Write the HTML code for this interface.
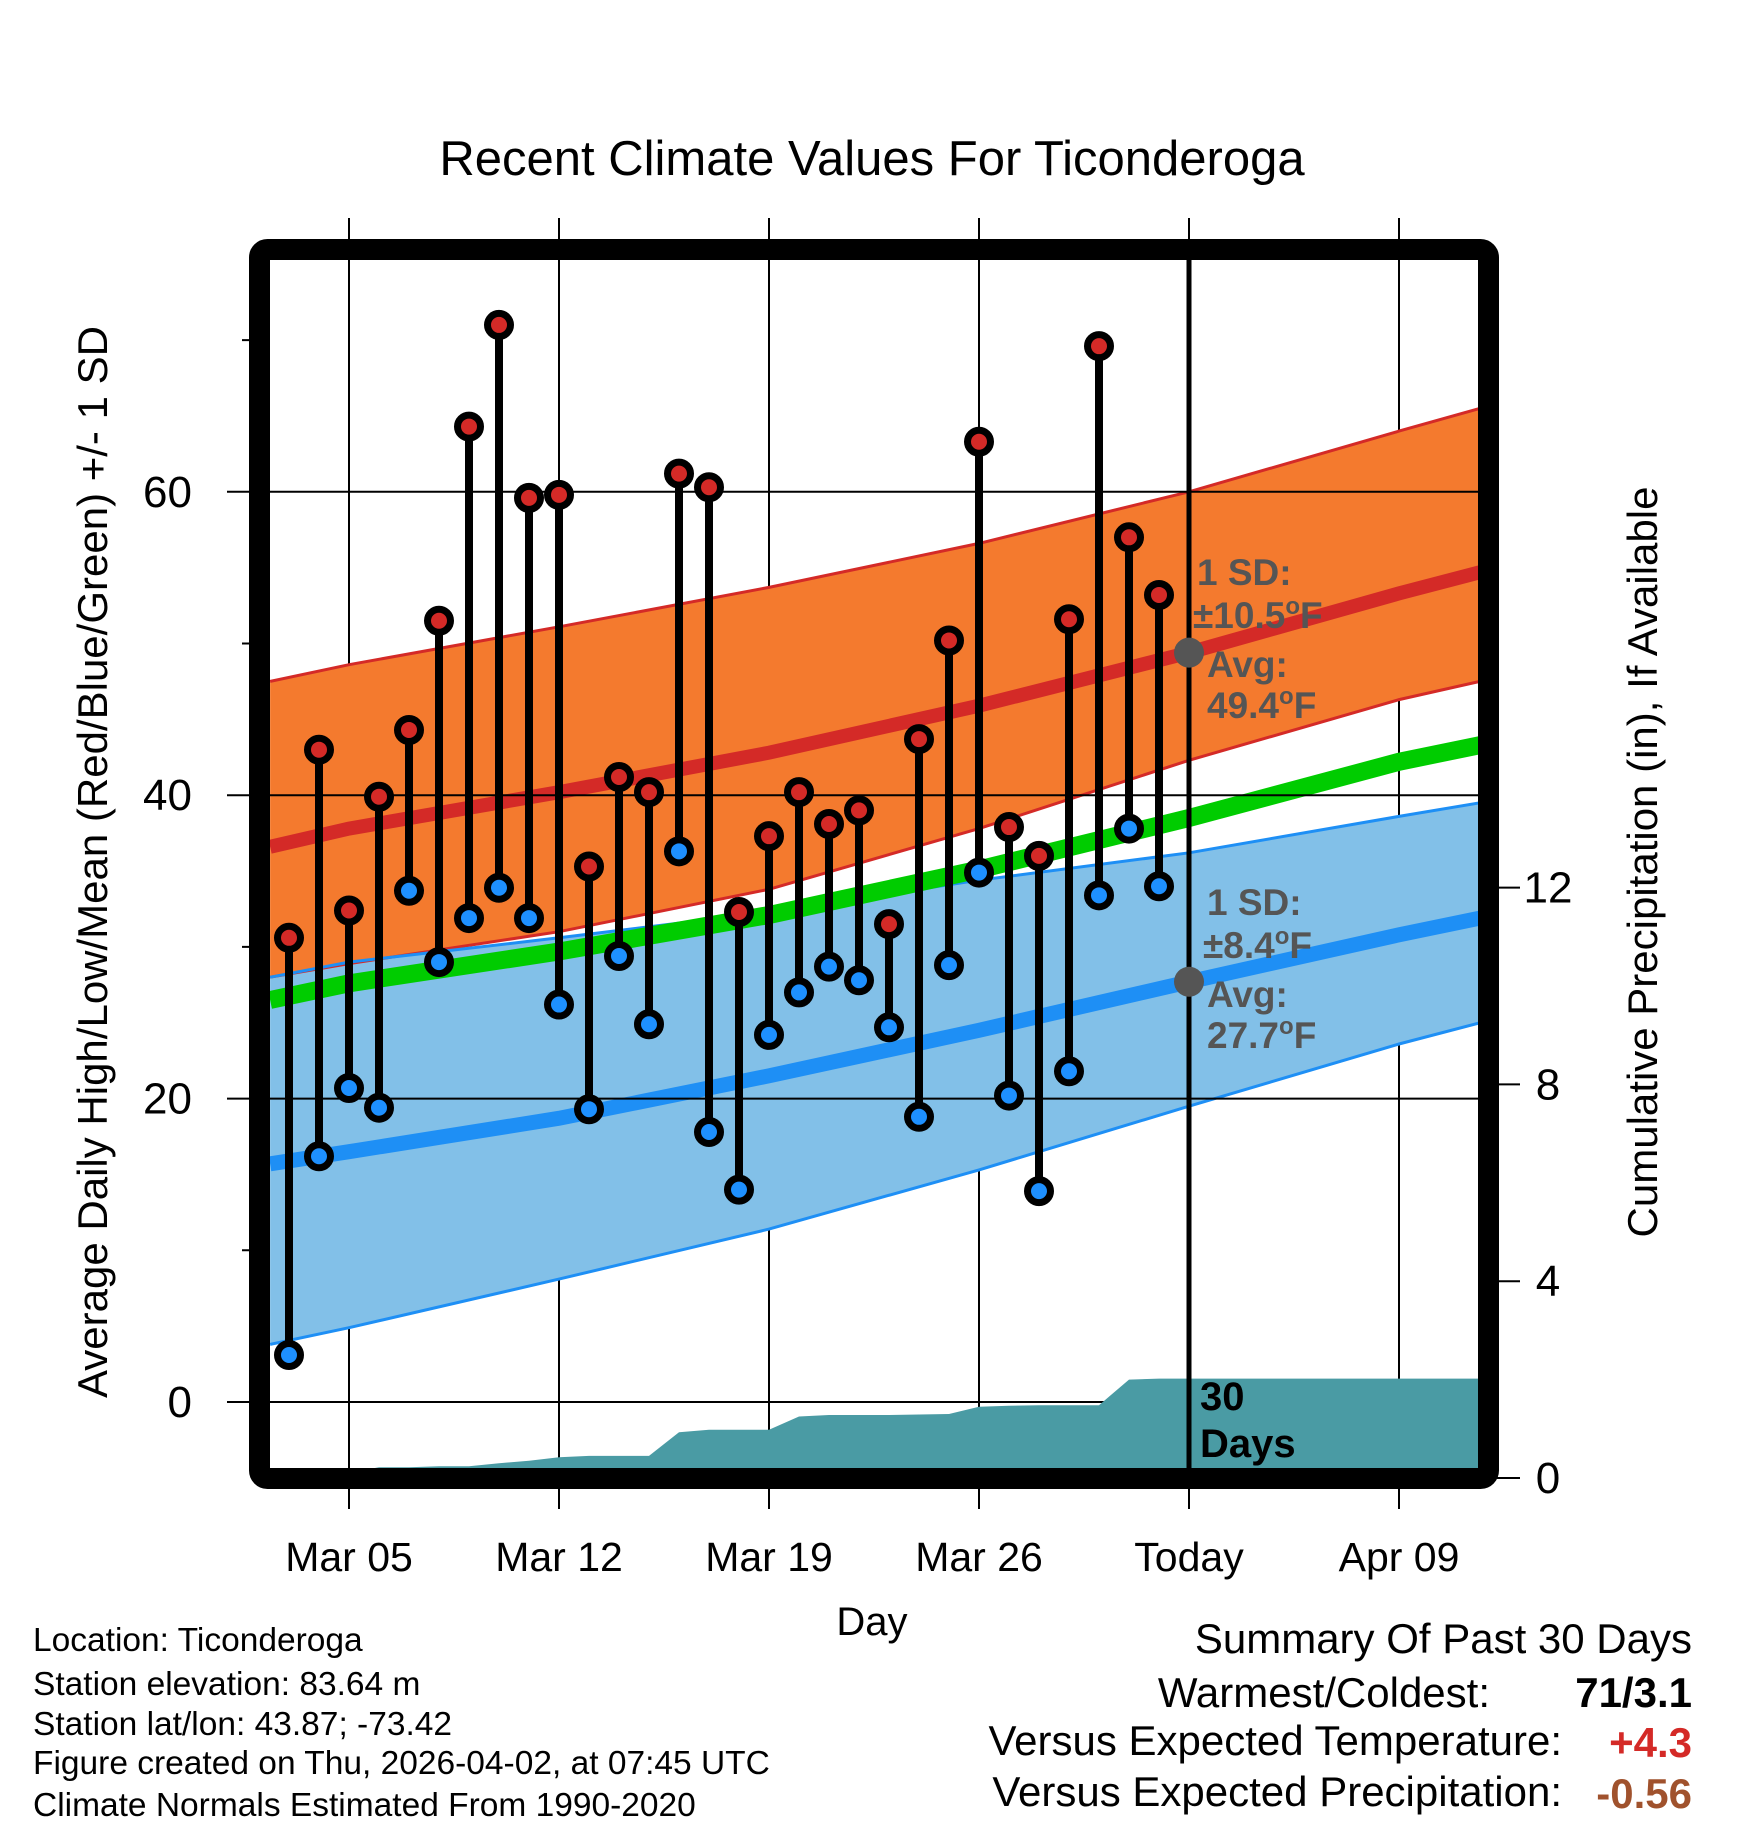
<!DOCTYPE html>
<html><head><meta charset="utf-8"><style>
body{margin:0;background:#fff}
svg{display:block;font-family:"Liberation Sans",sans-serif}
</style></head><body>
<svg id="chart" width="1748" height="1828" viewBox="0 0 1748 1828" xmlns="http://www.w3.org/2000/svg">
<defs><clipPath id="plotclip"><rect x="270" y="260" width="1208" height="1208"/></clipPath></defs>
<text x="872" y="175" font-size="49" text-anchor="middle">Recent Climate Values For Ticonderoga</text>
<g id="grid"></g>
<g id="bands" clip-path="url(#plotclip)"></g>
<g id="precip" clip-path="url(#plotclip)"></g>
<g id="marks"></g>
<g id="axes"></g>
<text transform="translate(107,862) rotate(-90)" font-size="42" text-anchor="middle">Average Daily High/Low/Mean (Red/Blue/Green) +/- 1 SD</text>
<text transform="translate(1657,862) rotate(-90)" font-size="42" text-anchor="middle">Cumulative Precipitation (in), If Available</text>
<text x="872" y="1635" font-size="40" text-anchor="middle">Day</text>
<g font-size="33.5">
<text x="33" y="1651">Location: Ticonderoga</text>
<text x="33" y="1695">Station elevation: 83.64 m</text>
<text x="33" y="1735">Station lat/lon: 43.87; -73.42</text>
<text x="33" y="1774">Figure created on Thu, 2026-04-02, at 07:45 UTC</text>
<text x="33" y="1816">Climate Normals Estimated From 1990-2020</text>
</g>
<g font-size="42">
<text x="1692" y="1653" text-anchor="end">Summary Of Past 30 Days</text>
<text x="1490" y="1707" text-anchor="end">Warmest/Coldest:</text>
<text x="1692" y="1707" text-anchor="end" font-weight="bold">71/3.1</text>
<text x="1562" y="1755" text-anchor="end">Versus Expected Temperature:</text>
<text x="1692" y="1757" text-anchor="end" font-weight="bold" fill="#d42a27">+4.3</text>
<text x="1562" y="1806" text-anchor="end">Versus Expected Precipitation:</text>
<text x="1692" y="1808" text-anchor="end" font-weight="bold" fill="#a0522d">-0.56</text>
</g>
</svg>
<script>
// data: day index relative to Mar 1 (Mar 3 = 3)
const days = [3,4,5,6,7,8,9,10,11,12,13,14,15,16,17,18,19,20,21,22,23,24,25,26,27,28,29,30,31,32];
const highs = [30.6,43.0,32.4,39.9,44.3,51.5,64.3,71.0,59.6,59.8,35.3,41.2,40.2,61.2,60.3,32.3,37.3,40.2,38.1,39.0,31.5,43.7,50.2,63.3,37.9,36.0,51.6,69.6,57.0,53.2];
const lows = [3.1,16.2,20.7,19.4,33.7,29.0,31.9,33.9,31.9,26.2,19.3,29.4,24.9,36.3,17.8,14.0,24.2,27.0,28.7,27.8,24.7,18.8,28.8,34.9,20.2,13.9,21.8,33.4,37.8,34.0];
const precip = [0.0,0.05,0.1,0.22,0.22,0.24,0.24,0.3,0.35,0.42,0.45,0.45,0.45,0.93,0.98,0.98,0.98,1.25,1.28,1.28,1.28,1.29,1.3,1.45,1.47,1.48,1.48,1.48,2.0,2.02];
const normDays = [2.37,5,12,19,26,33,40,42.7];
const redMean = [36.6,37.8,40.2,42.8,45.9,49.4,53.3,54.7];
const redUpper = [47.5,48.6,51.1,53.7,56.6,60.0,64.0,65.5];
const redLower = [28.0,28.9,31.0,33.8,37.8,42.3,46.3,47.5];
const greenMean = [26.5,27.6,29.7,32.1,35.1,38.5,42.2,43.3];
const blueUpper = [28.0,29.0,30.6,32.3,34.4,36.2,38.6,39.5];
const blueMean = [15.7,16.5,18.7,21.5,24.5,27.7,30.8,31.9];
const blueLower = [3.8,4.9,8.1,11.4,15.3,19.5,23.6,25.0];
const xTickDays = [5,12,19,26,33,40];
const xTickLabels = ['Mar 05','Mar 12','Mar 19','Mar 26','Today','Apr 09'];
const yTicks = [0,20,40,60];
const yMinor = [10,30,50,70];
const y2Ticks = [0,4,8,12];

const NS='http://www.w3.org/2000/svg';
const X = d => 349 + (d-5)*30;
const Y = t => 1402 - t*15.17;
const Y2 = p => 1478 - p*49.2;
function mk(parent, tag, attrs){const e=document.createElementNS(NS,tag);for(const k in attrs)e.setAttribute(k,attrs[k]);document.getElementById(parent).appendChild(e);return e;}
const pts = (xs,ys,fy)=>xs.map((d,i)=>X(d).toFixed(1)+','+fy(ys[i]).toFixed(1));

xTickDays.forEach((d,i)=>{
  const g=mk('grid','line',{x1:X(d),x2:X(d),y1:218,y2:1509,stroke:'#000','stroke-width':2});
  
  
});
function band(up,lo,fill,name){
  const p=pts(normDays,up,Y).concat(pts(normDays,lo,Y).reverse());
  const e=mk('bands','polygon',{points:p.join(' '),fill:fill});
  
  
}
function line(vals,color,w,name){
  const e=mk('bands','polyline',{points:pts(normDays,vals,Y).join(' '),fill:'none',stroke:color,'stroke-width':w});
  
  
}
band(redUpper,redLower,'#f47a2e','high-sd-band');
band(blueUpper,blueLower,'#82c0e8','low-sd-band');
line(redUpper,'#d42a27',3,'high-upper-line');
line(redLower,'#d42a27',3,'high-lower-line');
line(blueUpper,'#1e8ff5',3,'low-upper-line');
line(blueLower,'#1e8ff5',3,'low-lower-line');
line(redMean,'#d42a27',14,'high-mean-line');
line(blueMean,'#1e8ff5',15,'low-mean-line');
line(greenMean,'#00cc00',18,'mean-normal-line');
yTicks.forEach(t=>{
  const e=mk('bands','line',{x1:270,x2:1478,y1:Y(t),y2:Y(t),stroke:'#000','stroke-width':2});
  
  
});
{
  const p=[X(days[0])+','+1478].concat(pts(days,precip,Y2));
  p.push('1478,'+Y2(precip[precip.length-1]).toFixed(1),'1478,1478');
  const e=mk('precip','polygon',{points:p.join(' '),fill:'#4a9ba4'});
  
  
}
{
  const e=mk('marks','line',{x1:X(33),x2:X(33),y1:260,y2:1468,stroke:'#000','stroke-width':5});
  
  
}
days.forEach((d,i)=>{
  const s=mk('marks','line',{x1:X(d),x2:X(d),y1:Y(highs[i]),y2:Y(lows[i]),stroke:'#000','stroke-width':8});
  
  
});
days.forEach((d,i)=>{
  const h=mk('marks','circle',{cx:X(d),cy:Y(highs[i]),r:11.5,fill:'#d42a27',stroke:'#000','stroke-width':7});
  
  
  const l=mk('marks','circle',{cx:X(d),cy:Y(lows[i]),r:11.5,fill:'#1e90ff',stroke:'#000','stroke-width':7});
  
  
});
[[redMean[5],'high-avg-dot'],[blueMean[5],'low-avg-dot']].forEach(a=>{
  const e=mk('marks','circle',{cx:X(33),cy:Y(a[0]),r:15,fill:'#555'});
  
  
});
function txt(parent,x,y,s,attrs,name){const e=mk(parent,'text',Object.assign({x:x,y:y},attrs));e.innerHTML=s;return e;}
const ann={'font-size':37,'font-weight':'bold',fill:'#555'};
const deg='<tspan dy="-14" font-size="24">o</tspan><tspan dy="14">F</tspan>';
txt('marks',1197,585,'1 SD:',ann,'high-sd-label');
txt('marks',1193,628,'±10.5'+deg,ann,'high-sd-value');
txt('marks',1207,677,'Avg:',ann,'high-avg-label');
txt('marks',1207,718,'49.4'+deg,ann,'high-avg-value');
txt('marks',1207,915,'1 SD:',ann,'low-sd-label');
txt('marks',1203,958,'±8.4'+deg,ann,'low-sd-value');
txt('marks',1207,1007,'Avg:',ann,'low-avg-label');
txt('marks',1207,1048,'27.7'+deg,ann,'low-avg-value');
txt('marks',1200,1410,'30',{'font-size':40,'font-weight':'bold'},'precip-days-label');
txt('marks',1200,1457,'Days',{'font-size':40,'font-weight':'bold'},'precip-days-label-2');
{
  const e=mk('axes','rect',{x:259.5,y:249.5,width:1229,height:1229,rx:8,fill:'none',stroke:'#000','stroke-width':21});
  
  
}
yTicks.forEach(t=>{
  const e=mk('axes','line',{x1:227,x2:260,y1:Y(t),y2:Y(t),stroke:'#000','stroke-width':2});
  
  
  txt('axes',192,Y(t)+15,String(t),{'font-size':44,'text-anchor':'end'},'y-tick-label');
});
yMinor.forEach(t=>{
  const e=mk('axes','line',{x1:242,x2:260,y1:Y(t),y2:Y(t),stroke:'#000','stroke-width':2});
  
  
});
y2Ticks.forEach(p=>{
  const e=mk('axes','line',{x1:1488,x2:1520,y1:Y2(p),y2:Y2(p),stroke:'#000','stroke-width':2});
  
  
  txt('axes',1548,Y2(p)+15,String(p),{'font-size':44,'text-anchor':'middle'},'y2-tick-label');
});
xTickDays.forEach((d,i)=>{
  txt('axes',X(d),1571,xTickLabels[i],{'font-size':41,'text-anchor':'middle'},'x-tick-label');
});
</script>
</body></html>
